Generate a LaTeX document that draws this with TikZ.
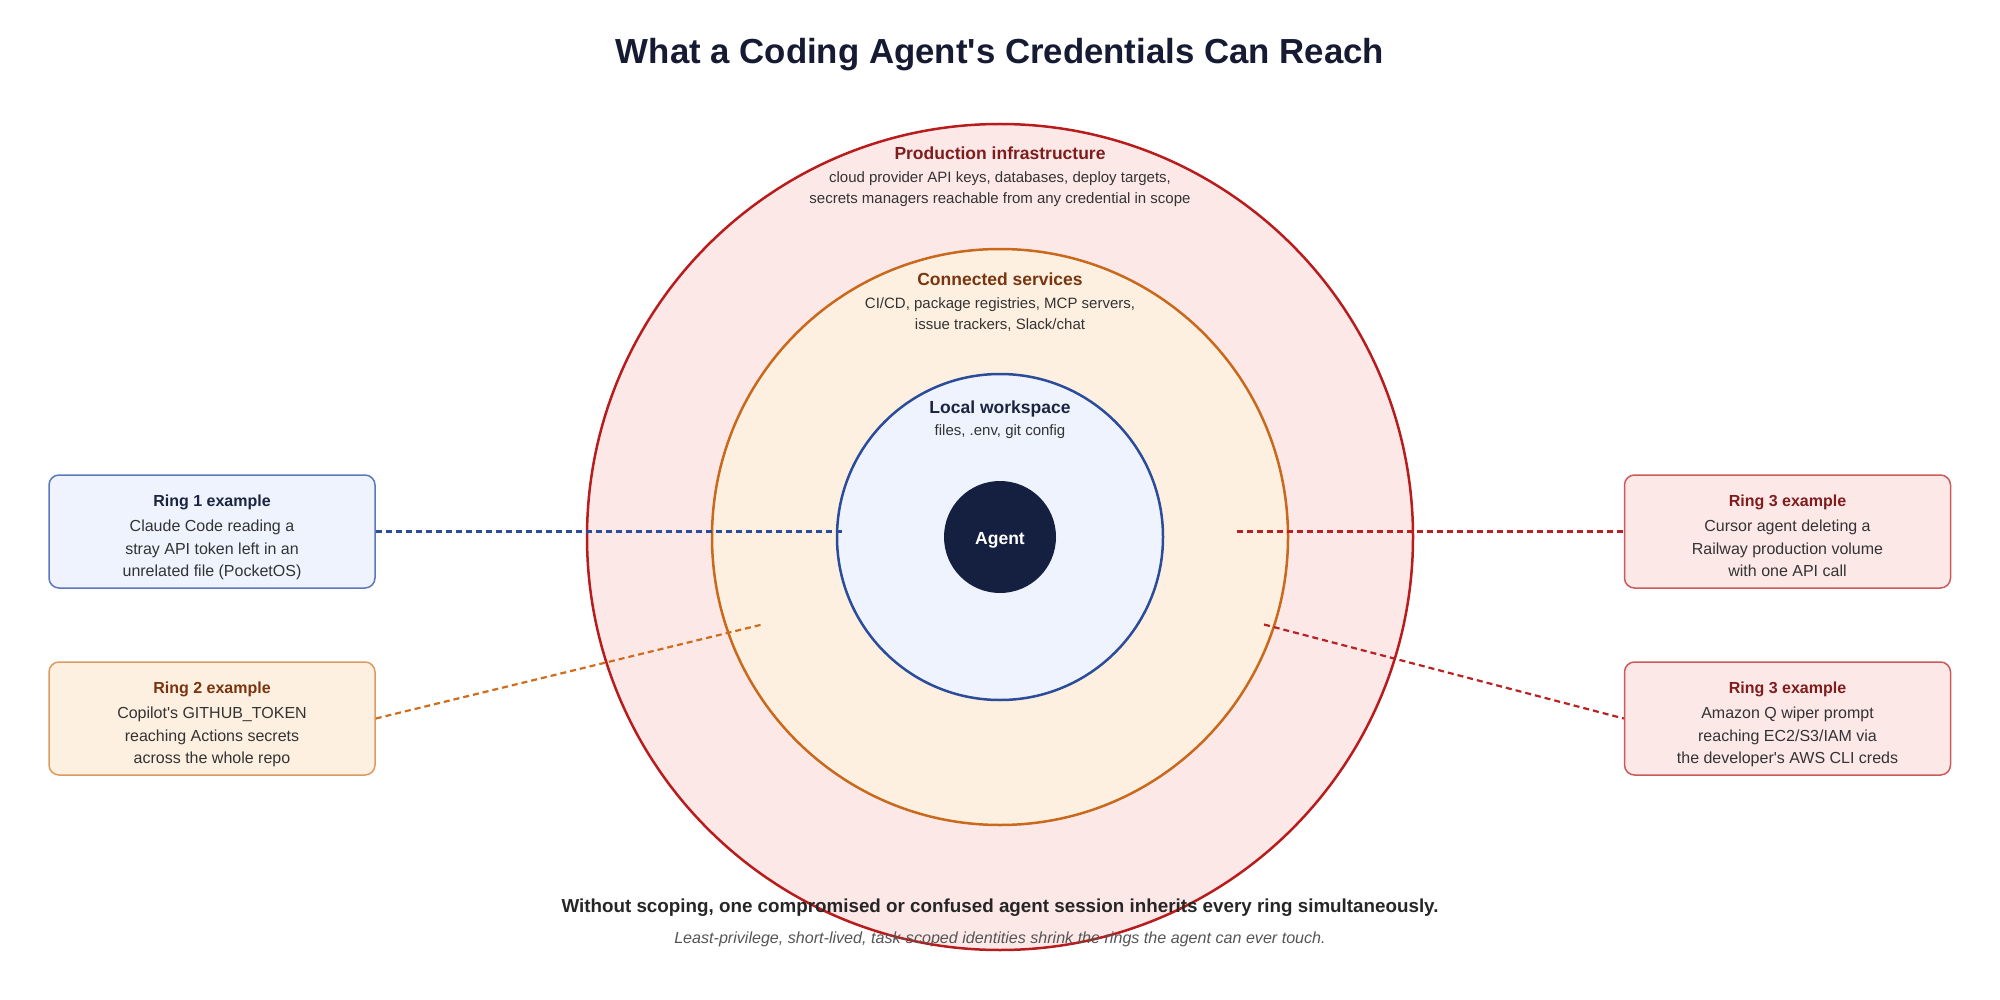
\documentclass[tikz,border=0pt]{standalone}
\usepackage{fontspec}
\setmainfont{Liberation Sans}
\definecolor{titleC}{HTML}{161B33}
\definecolor{prodC}{HTML}{7F1D1D}
\definecolor{connC}{HTML}{78350F}
\definecolor{locC}{HTML}{1B2540}
\definecolor{bodyC}{HTML}{333333}
\definecolor{outS}{HTML}{B91C1C}
\definecolor{outF}{HTML}{FDE8E8}
\definecolor{midS}{HTML}{C8691C}
\definecolor{midF}{HTML}{FEF0E0}
\definecolor{inS}{HTML}{2B4C9B}
\definecolor{inF}{HTML}{EEF3FE}
\definecolor{agentF}{HTML}{152040}
\definecolor{b1S}{HTML}{5B78BE}
\definecolor{b2S}{HTML}{DD9A60}
\definecolor{b3S}{HTML}{CC5A5A}
\definecolor{blueL}{HTML}{2B4C9B}
\definecolor{orL}{HTML}{CC6E1E}
\definecolor{redL}{HTML}{B82222}
\definecolor{botC}{HTML}{262626}
\definecolor{greyC}{HTML}{555555}
\begin{document}
\begin{tikzpicture}[x=1pt,y=-1pt,
  ring/.style={circle, inner sep=0pt, line width=2.5pt},
  hd/.style={font=\fontsize{17.5}{21}\selectfont\bfseries, anchor=base, inner sep=0pt},
  sub/.style={font=\fontsize{15}{21}\selectfont, align=center, anchor=north, inner sep=0pt, text=bodyC},
  exbox/.style={rectangle, rounded corners=10pt, minimum width=326pt, minimum height=113pt, line width=1.5pt, inner sep=0pt},
  extitle/.style={font=\fontsize{16}{20}\selectfont\bfseries, anchor=base, inner sep=0pt},
  exbody/.style={font=\fontsize{16}{22.5}\selectfont, align=center, anchor=north, inner sep=0pt, text=bodyC},
  link/.style={dash pattern=on 6pt off 4pt, line width=2.2pt}]
\fill[white] (0,0) rectangle (2000,1000);
\useasboundingbox (0,0) rectangle (2000,1000);

\node[font=\fontsize{34.8}{40}\selectfont\bfseries, text=titleC, anchor=base, inner sep=0pt] (title) at (1000,63.5) {What a Coding Agent\textquotesingle s Credentials Can Reach};

\node[ring, draw=outS, fill=outF, minimum size=826pt] (outer) at (1000,537) {};
\node[ring, draw=midS, fill=midF, minimum size=576pt] (middle) at (1000,537) {};
\node[ring, draw=inS, fill=inF, minimum size=326pt] (inner) at (1000,537) {};
\node[circle, fill=agentF, minimum size=112pt, inner sep=0pt] (agent) at (1000,537) {};
\node[hd, text=white] (agentlbl) at (1000,544) {Agent};

\node[hd, text=prodC] (prodT) at (1000,159.3) {Production infrastructure};
\node[sub] (prodD) at (1000,171.8) {cloud provider API keys, databases, deploy targets,\\secrets managers reachable from any credential in scope};
\node[hd, text=connC] (connT) at (1000,285.3) {Connected services};
\node[sub] (connD) at (1000,297.3) {CI/CD, package registries, MCP servers,\\issue trackers, Slack/chat};
\node[hd, text=locC] (locT) at (1000,413) {Local workspace};
\node[sub] (locD) at (1000,424.8) {files, .env, git config};

% example boxes
\node[exbox, draw=b1S, fill=inF] (r1) at (212,531.5) {};
\node[exbox, draw=b2S, fill=midF] (r2) at (212,718.5) {};
\node[exbox, draw=b3S, fill=outF] (r3a) at (1787.5,531.5) {};
\node[exbox, draw=b3S, fill=outF] (r3b) at (1787.5,718.5) {};

\node[extitle, text=locC] (r1t) at (212,506.5) {Ring 1 example};
\node[exbody] (r1b) at (212,520) {Claude Code reading a\\stray API token left in an\\unrelated file (PocketOS)};
\node[extitle, text=connC] (r2t) at (212,693.5) {Ring 2 example};
\node[exbody] (r2b) at (212,707) {Copilot\textquotesingle s GITHUB\_TOKEN\\reaching Actions secrets\\across the whole repo};
\node[extitle, text=prodC] (r3at) at (1787.5,506.5) {Ring 3 example};
\node[exbody] (r3ab) at (1787.5,520) {Cursor agent deleting a\\Railway production volume\\with one API call};
\node[extitle, text=prodC] (r3bt) at (1787.5,693.5) {Ring 3 example};
\node[exbody] (r3bb) at (1787.5,707) {Amazon Q wiper prompt\\reaching EC2/S3/IAM via\\the developer\textquotesingle s AWS CLI creds};

% connectors
\coordinate (p1) at (843,531.5);
\coordinate (p2) at (763,624.3);
\coordinate (p3) at (1237,531.5);
\coordinate (p4) at (1264,624.5);
\draw[link, draw=blueL] (r1.east) -- (p1);
\draw[link, draw=orL] (r2.east) -- (p2);
\draw[link, draw=redL] (p3) -- (r3a.west);
\draw[link, draw=redL] (p4) -- (r3b.west);

\node[font=\fontsize{18.8}{22}\selectfont\bfseries, text=botC, anchor=base, inner sep=0pt] (note) at (1000,912.7) {Without scoping, one compromised or confused agent session inherits every ring simultaneously.};
\node[font=\fontsize{16.1}{20}\selectfont\itshape, text=greyC, anchor=base, inner sep=0pt] (note2) at (1000,943) {Least-privilege, short-lived, task-scoped identities shrink the rings the agent can ever touch.};
\end{tikzpicture}
\end{document}
